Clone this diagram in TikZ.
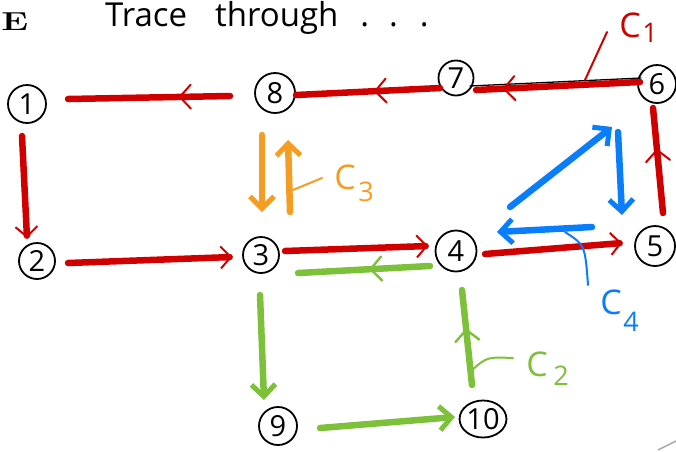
\documentclass[tikz,border=0pt]{standalone}
\usepackage{fontspec}
\newfontfamily\hand{Open Sans}
\usetikzlibrary{arrows.meta,calc,decorations.markings,shapes.geometric}
\definecolor{cred}{RGB}{208,0,0}
\definecolor{corange}{RGB}{245,157,35}
\definecolor{cblue}{RGB}{10,125,250}
\definecolor{cgreen}{RGB}{125,192,58}
\tikzset{
  vtx/.style={circle,draw=black,line width=1.8pt,minimum size=38pt,inner sep=0pt,font=\hand\fontsize{29}{29}\selectfont},
  edge/.style={line width=6.5pt,line cap=round},
  redtip/.style={-{Straight Barb[length=10pt,width=22pt,line width=2pt]}},
  fattip/.style={-{Straight Barb[length=12pt,width=24pt,line width=5pt]}},
  midred/.style={decoration={markings,mark=at position #1 with {\draw[line width=2pt,line cap=round,line join=round] (-11pt,12pt) -- (0pt,0pt) -- (-11pt,-12pt);}},postaction={decorate}},
  midgreen/.style={decoration={markings,mark=at position #1 with {\draw[line width=2.4pt,line cap=round,line join=round] (-11pt,12pt) -- (0pt,0pt) -- (-11pt,-12pt);}},postaction={decorate}},
  lbl/.style={inner sep=0pt,font=\hand\fontsize{34}{34}\selectfont},
  sub/.style={inner sep=0pt,font=\hand\fontsize{27}{27}\selectfont},
  pointer/.style={line width=2pt,line cap=round}
}
\begin{document}
\begin{tikzpicture}[x=1pt,y=-1pt]
\useasboundingbox (0,0) rectangle (676,451);
% title
\node[anchor=base west,inner sep=0pt,font=\bfseries\fontsize{26}{26}\selectfont,xscale=1.4,transform shape] (title) at (1,30) {E};
\node[anchor=base west,inner sep=0pt,font=\hand\fontsize{33}{33}\selectfont] (trace) at (105,26) {Trace\hspace{28pt}through\hspace{22pt}.\hspace{20pt}.\hspace{22pt}.};
% vertices
\node[vtx] (n1) at (27,104) {1};
\node[vtx,minimum size=36pt] (n2) at (37,261) {2};
\node[vtx,minimum size=36pt] (n3) at (261,255) {3};
\node[vtx,minimum size=41pt] (n4) at (456,251) {4};
\node[vtx,minimum size=40pt] (n5) at (655,246) {5};
\node[vtx] (n6) at (657,84) {6};
\node[vtx,minimum size=35pt] (n7) at (456,78) {7};
\node[vtx,minimum size=40pt] (n8) at (275,93) {8};
\node[vtx] (n9) at (278,426) {9};
\node[vtx,ellipse,minimum width=45pt,minimum height=37pt] (n10) at (483,419) {10};
% C1 (red)
\draw[black,line width=1.3pt,line cap=round] ($(n6)+(-16,-6)$) -- ($(n7)+(14,8)$);
\draw[edge,cred,midred=0.83] ($(n6)+(-17,-2)$) -- ($(n7)+(20,12)$);
\draw[edge,cred,midred=0.45] ($(n7)+(-16,10)$) -- ($(n8)+(21,2)$);
\draw[edge,cred,midred=0.31] ($(n8)+(-45,3)$) -- ($(n1)+(41,-5)$);
\draw[edge,cred,redtip] ($(n1)+(-5,32)$) -- ($(n2)+(-10,-23)$);
\draw[edge,cred,redtip] ($(n2)+(31,2)$) -- ($(n3)+(-29,2)$);
\draw[edge,cred,redtip] ($(n3)+(24,-4)$) -- ($(n4)+(-28,-5)$);
\draw[edge,cred,redtip] ($(n4)+(29,3)$) -- ($(n5)+(-33,-3)$);
\draw[edge,cred,midred=0.6] ($(n5)+(8,-33)$) -- ($(n6)+(-4,24)$);
% C3 (orange)
\draw[edge,corange,fattip] ($(n8)+(-13,42)$) -- ($(n3)+(1,-43)$);
\draw[edge,corange,fattip] ($(n3)+(29,-43)$) -- ($(n8)+(13,47)$);
% C4 (blue)
\draw[edge,cblue,fattip] ($(n4)+(54,-44)$) -- ($(n6)+(-45,43)$);
\draw[edge,cblue,fattip] ($(n6)+(-39,48)$) -- ($(n5)+(-33,-31)$);
\draw[edge,cblue,fattip] ($(n5)+(-63,-19)$) -- ($(n4)+(41,-19)$);
% C2 (green)
\draw[edge,cgreen,midgreen=0.45] ($(n4)+(-26,15)$) -- ($(n3)+(37,18)$);
\draw[edge,cgreen,fattip] ($(n3)+(-1,40)$) -- ($(n9)+(-14,-26)$);
\draw[edge,cgreen,fattip] ($(n9)+(42,2)$) -- ($(n10)+(-28,-2)$);
\draw[edge,cgreen,midgreen=0.58] ($(n10)+(-11,-34)$) -- ($(n4)+(6,39)$);
% labels
\node[lbl,text=cred] (c1) at (630,25) {C};
\node[sub,text=cred] (c1s) at (650,33) {1};
\node[lbl,text=corange] (c3) at (345,177) {C};
\node[sub,text=corange] (c3s) at (366,192) {3};
\node[lbl,text=cblue] (c4) at (611,302) {C};
\node[sub,text=cblue] (c4s) at (631,322) {4};
\node[lbl,text=cgreen] (c2) at (537,364) {C};
\node[sub,text=cgreen] (c2s) at (561,376) {2};
% pointers
\coordinate (p1a) at ($(n6)+(-72,-4)$);
\coordinate (p1b) at (607,32);
\draw[pointer,cred] (p1a) -- (p1b);
\coordinate (p3a) at ($(n3)+(32,-65)$);
\coordinate (p3b) at (322,178);
\draw[pointer,corange] (p3a) -- (p3b);
\coordinate (p4a) at ($(n5)+(-90,-14)$);
\coordinate (p4b) at (588,285);
\draw[pointer,cblue] (p4a) .. controls (585,245) .. (p4b);
\coordinate (p2a) at ($(n10)+(-11,-49)$);
\coordinate (p2b) at (513,358);
\draw[pointer,cgreen] (p2a) .. controls (487,357) .. (p2b);
% stray mark
\coordinate (g1) at (658,450);
\coordinate (g2) at (676,441);
\draw[gray!70,line width=1.5pt] (g1) -- (g2);
\end{tikzpicture}
\end{document}
